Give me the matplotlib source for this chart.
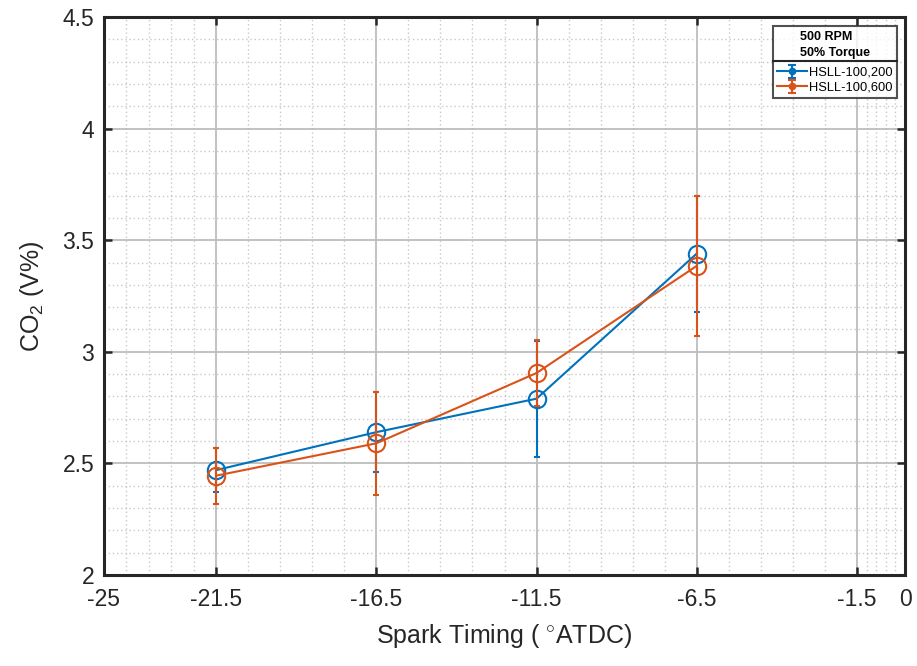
import matplotlib
matplotlib.use("Agg")
import matplotlib.pyplot as plt
from matplotlib.ticker import FixedLocator
from matplotlib.lines import Line2D
import numpy as np

plt.rcParams['font.family'] = ['Liberation Sans', 'DejaVu Sans']
plt.rcParams['mathtext.fontset'] = 'custom'
plt.rcParams['mathtext.rm'] = 'Liberation Sans'
plt.rcParams['mathtext.it'] = 'Liberation Sans'

spark_timing = [-21.5, -16.5, -11.5, -6.5]
co2_200 = [2.47, 2.64, 2.79, 3.44]
err_200 = [0.10, 0.18, 0.26, 0.26]
co2_600 = [2.445, 2.59, 2.905, 3.385]
err_600_low = [0.125, 0.23, 0.15, 0.315]
err_600_high = [0.125, 0.23, 0.15, 0.315]
labels = ['HSLL-100,200', 'HSLL-100,600']
legend_title = '500 RPM\n50% Torque'
xticks = [-25, -21.5, -16.5, -11.5, -6.5, -1.5, 0]
yticks = [2, 2.5, 3, 3.5, 4, 4.5]

blue = '#0072BD'
orange = '#D95319'
dark = '#262626'

fig = plt.figure(figsize=(9.17, 6.66), dpi=100)
ax = fig.add_axes([104/917, 1-575/666, (905-104)/917, (575-17)/666])

ekw = dict(lw=1.5, marker='o', ms=12.5, mfc='none', mew=1.5, capsize=2.5, capthick=3,
           elinewidth=1.5)
h1 = ax.errorbar(spark_timing, co2_200, yerr=err_200, color=blue, zorder=3, **ekw)
h2 = ax.errorbar(spark_timing, co2_600, yerr=[err_600_low, err_600_high], color=orange,
                 zorder=4, **ekw)

# legend proxies (small markers as in reference legend)
lkw = dict(lw=1.5, marker='o', ms=4, mew=1.5, capsize=3, capthick=3, elinewidth=1.5)
p1 = ax.errorbar([np.nan], [np.nan], yerr=[0.1], color=blue, **lkw)
p2 = ax.errorbar([np.nan], [np.nan], yerr=[0.1], color=orange, **lkw)

ax.set_xlim(-25, 0)
ax.set_ylim(2, 4.5)
ax.set_xticks(xticks)
ax.set_xticklabels(['-25', '-21.5', '-16.5', '-11.5', '-6.5', '-1.5', '0'])
ax.set_yticks(yticks)
ax.set_yticklabels(['2', '2.5', '3', '3.5', '4', '4.5'])

xminor = []
for a, b in zip(xticks[:-1], xticks[1:]):
    xminor += list(np.linspace(a, b, 6)[1:-1])
ax.xaxis.set_minor_locator(FixedLocator(xminor))
yminor = []
for a, b in zip(yticks[:-1], yticks[1:]):
    yminor += list(np.linspace(a, b, 6)[1:-1])
ax.yaxis.set_minor_locator(FixedLocator(yminor))

ax.grid(True, which='major', color='#bdbdbd', lw=1.3, ls='-', zorder=0)
ax.grid(True, which='minor', color='#c8c8c8', lw=1.0, ls=(0, (1, 2)), zorder=0)
ax.set_axisbelow(True)

ax.tick_params(which='major', direction='in', length=6, width=1.8, top=True, right=True,
               labelsize=16.5, colors=dark)
ax.tick_params(axis='x', which='major', pad=9)
ax.tick_params(axis='y', which='major', pad=7)
ax.tick_params(which='minor', length=0)
for s in ax.spines.values():
    s.set_linewidth(2.2)
    s.set_color(dark)

ax.set_xlabel('Spark Timing ( $^{\\circ}$ATDC)', fontsize=18, color=dark, labelpad=8)
ax.set_ylabel('CO$_2$ (V%)', fontsize=18, color=dark, labelpad=12)

leg = ax.legend(handles=[p1, p2], labels=labels, loc='upper right',
                bbox_to_anchor=(897/917, 1-26/666), bbox_transform=fig.transFigure,
                fontsize=9.3, title=legend_title,
                title_fontproperties={'weight': 'bold', 'size': 9},
                frameon=True, fancybox=False, edgecolor=dark, handlelength=2.3,
                handletextpad=0.15, borderpad=0.35, labelspacing=0.2, borderaxespad=0)
leg.get_frame().set_linewidth(1.5)
leg.get_title().set_linespacing(1.45)
leg._legend_box.sep = 6

fig.canvas.draw()
tb = leg._legend_title_box.get_window_extent()
fb = leg.get_frame().get_window_extent()
inv = fig.transFigure.inverted()
ysep = tb.y0 - 2
(x0, y0) = inv.transform((fb.x0, ysep))
(x1, _) = inv.transform((fb.x1, ysep))
fig.add_artist(Line2D([x0, x1], [y0, y0], transform=fig.transFigure, color=dark, lw=1.5, zorder=10))

fig.savefig('out.png', dpi=100, facecolor='white')
